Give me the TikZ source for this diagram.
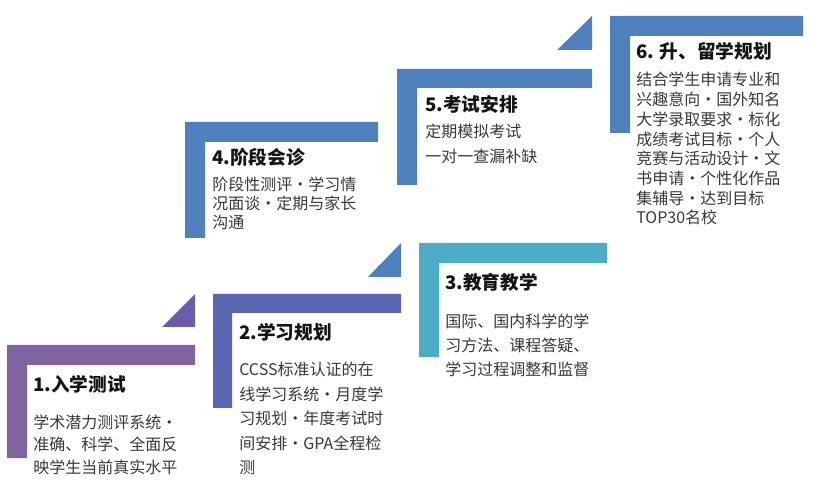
\documentclass[tikz,border=0pt]{standalone}
\usepackage{fontspec}
\setmainfont{Noto Sans CJK SC}
\usetikzlibrary{positioning}
\definecolor{stepA}{HTML}{8064A2}
\definecolor{stepB}{HTML}{5A66B0}
\definecolor{stepC}{HTML}{4BACC6}
\definecolor{stepD}{HTML}{4F81BD}
\definecolor{triA}{HTML}{6B5CAB}
\definecolor{triB}{HTML}{4F80BE}

\begin{document}
\begin{tikzpicture}[
    x=0.75pt,y=-0.75pt,
    steptitle/.style={anchor=base west,inner sep=0pt,font=\fontsize{14}{17}\selectfont\bfseries,text=black!92},
    % body nodes are placed by the baseline of their last line
    stepbody/.style={anchor=base west,inner sep=0pt,align=left,text=black!78,font=\fontsize{12}{#1}\selectfont},
  ]
    \useasboundingbox (0,0) rectangle (821,484);
    % L-shaped steps
    \fill[stepA] (7,345) -- (195,345) -- (195,365) -- (27,365) -- (27,458) -- (7,458) -- cycle;
    \fill[stepB] (213,294) -- (401,294) -- (401,313) -- (232,313) -- (232,408) -- (213,408) -- cycle;
    \fill[stepC] (419,243) -- (607,243) -- (607,263) -- (439,263) -- (439,357) -- (419,357) -- cycle;
    \fill[stepD] (185,122) -- (378,122) -- (378,142) -- (205,142) -- (205,238) -- (185,238) -- cycle;
    \fill[stepD] (397,69) -- (592,69) -- (592,88) -- (417,88) -- (417,185) -- (397,185) -- cycle;
    \fill[stepD] (610,16) -- (803,16) -- (803,36) -- (630,36) -- (630,133) -- (610,133) -- cycle;
    % corner triangles
    \fill[triA] (162,327) -- (195,327) -- (195,294) -- cycle;
    \fill[triB] (368,277) -- (401,277) -- (401,243) -- cycle;
    \fill[triB] (557,50) -- (592,50) -- (592,16) -- cycle;

    \node[steptitle] (t1) at (33,392) {1.入学测试};
    \node[stepbody=17.25pt] (b1) at (33,474) {学术潜力测评系统・\\准确、科学、全面反\\映学生当前真实水平};
    \node[steptitle] (t2) at (239,340) {2.学习规划};
    \node[stepbody=18.4pt] (b2) at (239,474) {CCSS标准认证的在\\线学习系统・月度学\\习规划・年度考试时\\间安排・GPA全程检\\测};
    \node[steptitle] (t3) at (445,290) {3.教育教学};
    \node[stepbody=18pt] (b3) at (445,376) {国际、国内科学的学\\习方法、课程答疑、\\学习过程调整和监督};
    \node[steptitle] (t4) at (212,165) {4.阶段会诊};
    \node[stepbody=14.25pt] (b4) at (212,229) {阶段性测评・学习情\\况面谈・定期与家长\\沟通};
    \node[steptitle] (t5) at (425,112) {5.考试安排};
    \node[stepbody=18.75pt] (b5) at (425,163) {定期模拟考试\\一对一查漏补缺};
    \node[steptitle] (t6) at (636,59) {6. 升、留学规划};
    \node[stepbody=14.8pt] (b6) at (636,224) {结合学生申请专业和\\兴趣意向・国外知名\\大学录取要求・标化\\成绩考试目标・个人\\竞赛与活动设计・文\\书申请・个性化作品\\集辅导・达到目标\\TOP30名校};
\end{tikzpicture}
\end{document}
